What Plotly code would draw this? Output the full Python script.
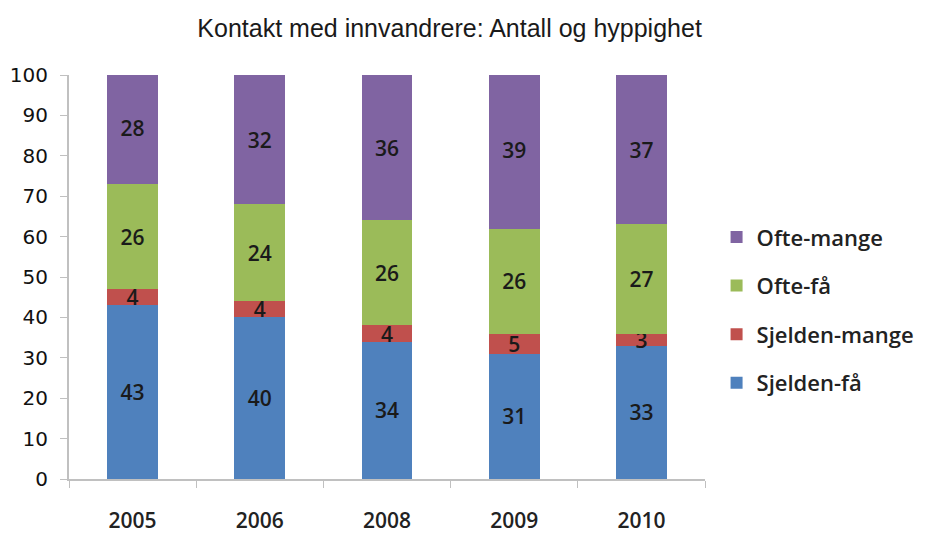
import plotly.graph_objects as go

years = ["2005", "2006", "2008", "2009", "2010"]
sjelden_faa = [43, 40, 34, 31, 33]
sjelden_mange = [4, 4, 4, 5, 3]
ofte_faa = [26, 24, 26, 26, 27]
ofte_mange = [28, 32, 36, 39, 37]

series = [
    ("Sjelden-få", sjelden_faa, "#4F81BD", 4),
    ("Sjelden-mange", sjelden_mange, "#C0504D", 3),
    ("Ofte-få", ofte_faa, "#9BBB59", 2),
    ("Ofte-mange", ofte_mange, "#8064A2", 1),
]

fig = go.Figure()
for name, vals, col, rank in series:
    fig.add_trace(go.Bar(
        x=years, y=vals, name=name, legendgroup=name, legendrank=rank,
        marker=dict(color=col, line=dict(width=0)),
        text=[str(v) for v in vals], textposition="inside", textangle=0,
        insidetextanchor="middle", constraintext="none",
        textfont=dict(family="Open Sans, sans-serif", size=21, color="#1a1a1a", weight=600),
        cliponaxis=True,
    ))

fig.update_layout(
    barmode="stack",
    bargap=0.6,
    width=927, height=534,
    margin=dict(l=69, r=222, t=75, b=55, autoexpand=False),
    paper_bgcolor="white", plot_bgcolor="white",
    title=dict(text="Kontakt med innvandrere: Antall og hyppighet",
               x=0.485, xanchor="center", y=0.948, yanchor="middle",
               font=dict(family="Liberation Sans, Arial, sans-serif", size=25, color="#1a1a1a")),
    legend=dict(xref="container", x=0.773, xanchor="left", y=0.418, yanchor="middle",
                traceorder="grouped", tracegroupgap=17,
                font=dict(family="Open Sans, sans-serif", size=22, color="#222", weight=600),
                itemwidth=30),
    uniformtext=dict(minsize=21, mode="show"),
)
fig.update_yaxes(range=[0, 100], dtick=10, showgrid=False, showline=True, automargin=False,
                 linecolor="#c0c0c0", linewidth=2, ticks="outside", ticklen=7,
                 tickcolor="#c0c0c0", ticklabelstandoff=8,
                 tickfont=dict(family="DejaVu Sans, Verdana, sans-serif", size=20, color="#111"))
fig.update_xaxes(showgrid=False, showline=True, linecolor="#c0c0c0", linewidth=2, automargin=False,
                 ticks="outside", ticklen=7, tickcolor="#c0c0c0", tickson="boundaries",
                 ticklabelstandoff=22,
                 tickfont=dict(family="Open Sans, sans-serif", size=21, color="#222", weight=600))

fig.write_html("out.html", config={"displayModeBar": False},
               post_script="document.body.style.margin='0';")
